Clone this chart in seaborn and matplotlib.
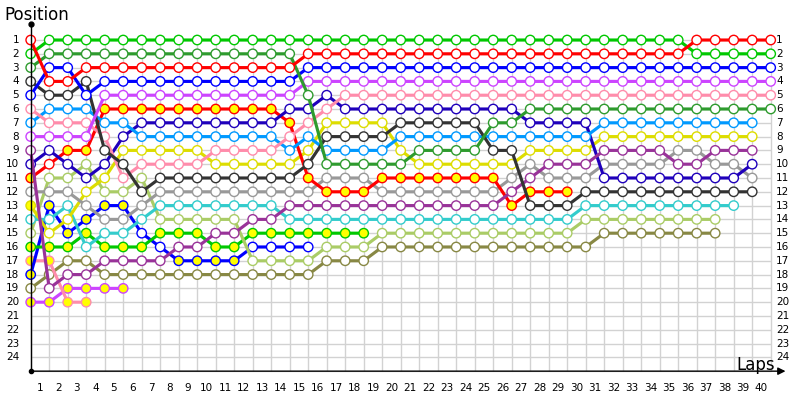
import numpy as np
import pandas as pd
import matplotlib.pyplot as plt
import seaborn as sns

# race position for every completed lap (index 0 = grid)
red = [1, 4, 4, 3, 3, 3, 3, 3, 3, 3, 3, 3, 3, 3, 3,
       2, 2, 2, 2, 2, 2, 2, 2, 2, 2, 2, 2, 2, 2, 2, 2, 2, 2, 2, 2, 2,
       1, 1, 1, 1, 1]
green = [2, 1, 1, 1, 1, 1, 1, 1, 1, 1, 1, 1, 1, 1, 1, 1, 1, 1, 1, 1, 1,
         1, 1, 1, 1, 1, 1, 1, 1, 1, 1, 1, 1, 1, 1, 1, 2, 2, 2, 2, 2]
dark_green = [3, 2, 2, 2, 2, 2, 2, 2, 2, 2, 2, 2, 2, 2, 2, 5,
              10, 10, 10, 10, 10, 9, 9, 9, 9, 7, 7,
              6, 6, 6, 6, 6, 6, 6, 6, 6, 6, 6, 6, 6, 6]
blue = [5, 3, 3, 5, 4, 4, 4, 4, 4, 4, 4, 4, 4, 4, 4,
        3, 3, 3, 3, 3, 3, 3, 3, 3, 3, 3, 3, 3, 3, 3, 3, 3, 3, 3, 3, 3,
        3, 3, 3, 3, 3]
violet = [8, 8, 8, 8, 5, 5, 5, 5, 5, 5, 5, 5, 5, 5, 5,
          4, 4, 4, 4, 4, 4, 4, 4, 4, 4, 4, 4, 4, 4, 4, 4, 4, 4, 4, 4, 4,
          4, 4, 4, 4, 4]
black = [4, 5, 5, 4, 9, 10, 12, 11, 11, 11, 11, 11, 11, 11, 11, 10,
         8, 8, 8, 8, 7, 7, 7, 7, 7, 9, 9, 13, 13, 13,
         12, 12, 12, 12, 12, 12, 12, 12, 12, 12]
pink = [6, 7, 7, 7, 8, 11, 10, 10, 10, 10, 9, 9, 9, 9, 8, 7, 6,
        5, 5, 5, 5, 5, 5, 5, 5, 5, 5, 5, 5, 5, 5, 5, 5, 5, 5, 5, 5,
        5, 5, 5, 5]
sky = [7, 6, 6, 6, 7, 7, 8, 8, 8, 8, 8, 8, 8, 8, 9, 8, 9, 9, 9, 9,
       8, 8, 8, 8, 8, 8, 8, 8, 8, 8, 8, 7, 7, 7, 7, 7, 7, 7, 7, 7]
plum = [9, 19, 18, 18, 17, 17, 17, 17, 16, 16, 15, 15, 14, 14,
        13, 13, 13, 13, 13, 13, 13, 13, 13, 13, 13, 13, 12, 11, 10, 10, 10,
        9, 9, 9, 9, 10, 10, 9, 9, 9]
navy = [10, 9, 10, 11, 10, 8, 7, 7, 7, 7, 7, 7, 7, 7, 6, 6, 5,
        6, 6, 6, 6, 6, 6, 6, 6, 6, 6, 7, 7, 7, 7,
        11, 11, 11, 11, 11, 11, 11, 11, 10]
red_b = [11, 10, 9, 9, 6, 6, 6, 6, 6, 6, 6, 6, 6, 6, 7, 11, 12, 12, 12,
         11, 11, 11, 11, 11, 11, 11, 13, 12, 12, 12]
grey = [12, 12, 12, 13, 14, 14, 13, 12, 12, 12, 12, 12, 12, 12, 12, 12,
        11, 11, 11, 12, 12, 12, 12, 12, 12, 12, 11, 10, 11, 11, 11,
        10, 10, 10, 10, 9, 9, 10, 10, 11]
yellow = [13, 15, 14, 12, 11, 9, 9, 9, 9, 9, 10, 10, 10, 10, 10, 9,
          7, 7, 7, 7, 9, 10, 10, 10, 10, 10, 10, 9, 9, 9, 9,
          8, 8, 8, 8, 8, 8, 8, 8, 8]
cyan = [14, 14, 13, 16, 15, 15, 14, 13, 13, 13, 13, 13, 13, 13,
        14, 14, 14, 14, 14, 14, 14, 14, 14, 14, 14, 14, 14, 14, 14, 14,
        13, 13, 13, 13, 13, 13, 13, 13, 13]
lime = [15, 11, 11, 10, 12, 12, 11, 14, 14, 14, 14, 14, 17, 17, 17, 17,
        16, 16, 16, 15, 15, 15, 15, 15, 15, 15, 15, 15, 15, 15,
        14, 14, 14, 14, 14, 14, 14, 14]
green_b = [16, 16, 16, 15, 16, 16, 16, 15, 15, 15, 16, 16,
           15, 15, 15, 15, 15, 15, 15]
blue_b = [18, 13, 15, 14, 13, 13, 15, 16, 17, 17, 17, 17, 16, 16, 16, 16]
pink_b = [17, 17, 20, 20]
olive = [19, 18, 17, 17, 18, 18, 18, 18, 18, 18, 18, 18, 18, 18, 18, 18,
         17, 17, 17, 16, 16, 16, 16, 16, 16, 16, 16, 16, 16, 16, 16,
         15, 15, 15, 15, 15, 15, 15]
violet_b = [20, 20, 19, 19, 19, 19]

# laps drawn with a yellow marker
red_b_yellow = [0, 2, 3, 4, 5, 6, 7, 8, 9, 10, 11, 12, 13, 14, 15, 16, 17,
                18, 19, 20, 21, 22, 23, 24, 25, 26, 27, 28, 29]
green_b_yellow = [0, 1, 2, 3, 4, 5, 6, 7, 8, 9, 10, 11, 12, 13, 14, 15, 16, 17, 18]
blue_b_yellow = [0, 1, 2, 3, 4, 5, 8, 9, 10, 11]
pink_b_yellow = [0, 1, 2, 3]
violet_b_yellow = [0, 1, 2, 3, 4, 5]
yellow_yellow = [0]

series = [
    ("red", red, "#ff0000", []),
    ("green", green, "#00c800", []),
    ("dark_green", dark_green, "#2e9b2e", []),
    ("blue", blue, "#0000ff", []),
    ("violet", violet, "#cc44ff", []),
    ("black", black, "#333333", []),
    ("pink", pink, "#ff8cab", []),
    ("sky", sky, "#0099ff", []),
    ("plum", plum, "#993399", []),
    ("navy", navy, "#1f00bb", []),
    ("red_b", red_b, "#ff0000", red_b_yellow),
    ("grey", grey, "#999999", []),
    ("yellow", yellow, "#dddd00", yellow_yellow),
    ("cyan", cyan, "#33cccc", []),
    ("lime", lime, "#aacc66", []),
    ("green_b", green_b, "#00c800", green_b_yellow),
    ("blue_b", blue_b, "#0000ff", blue_b_yellow),
    ("pink_b", pink_b, "#ff8cab", pink_b_yellow),
    ("olive", olive, "#888844", []),
    ("violet_b", violet_b, "#cc44ff", violet_b_yellow),
]

rows = []
for name, pos, col, yl in series:
    for lap, p in enumerate(pos):
        rows.append({"driver": name, "lap": lap, "pos": p, "filled": lap in yl})
df = pd.DataFrame(rows)

fig = plt.figure(figsize=(8, 4), dpi=100)
ax = fig.add_axes([0, 0, 1, 1])
ax.set_xlim(-1.659, 41.584)
ax.set_ylim(27.09, -1.90)
ax.axis("off")

grid_c = "#d2d2d2"
ax.vlines(np.arange(0, 41), 1, 25, color=grid_c, lw=1, zorder=0)
ax.hlines(np.arange(1, 26), 0, 40, color=grid_c, lw=1, zorder=0)

z = 2
for name, pos, col, yl in series[::-1]:
    sub = df[df["driver"] == name]
    sns.lineplot(data=sub, x="lap", y="pos", color=col, lw=2.25, sort=False,
                 estimator=None, ax=ax, legend=False, zorder=z)
    sns.scatterplot(data=sub, x="lap", y="pos", hue="filled",
                    palette={True: "#ffff00", False: "white"},
                    edgecolor=col, linewidth=1.0, s=46, ax=ax,
                    legend=False, zorder=z + 1)
    z += 2

# axes with arrows
ax.plot([0, 0], [25, -0.1], color="black", lw=1, zorder=50)
ax.plot(0, -0.15, "o", color="black", ms=3.5, zorder=50)
ax.annotate("", xy=(40.95, 25), xytext=(0, 25),
            arrowprops=dict(arrowstyle="-|>", color="black", lw=1,
                            mutation_scale=11), zorder=50)
ax.plot(0, 25, "o", color="black", ms=3, zorder=50)

for i in range(1, 25):
    ax.text(-0.63, i, str(i), ha="right", va="center", fontsize=7.5)
    ax.text(40.3, i, str(i), ha="left", va="center", fontsize=7.5)
for i in range(1, 41):
    ax.text(i - 0.5, 26.2, str(i), ha="center", va="center", fontsize=7.5)

ax.text(-1.4, -0.8, "Position", ha="left", va="center", fontsize=12)
ax.text(40.25, 24.55, "Laps", ha="right", va="center", fontsize=12)

fig.savefig("out.png", dpi=100)
